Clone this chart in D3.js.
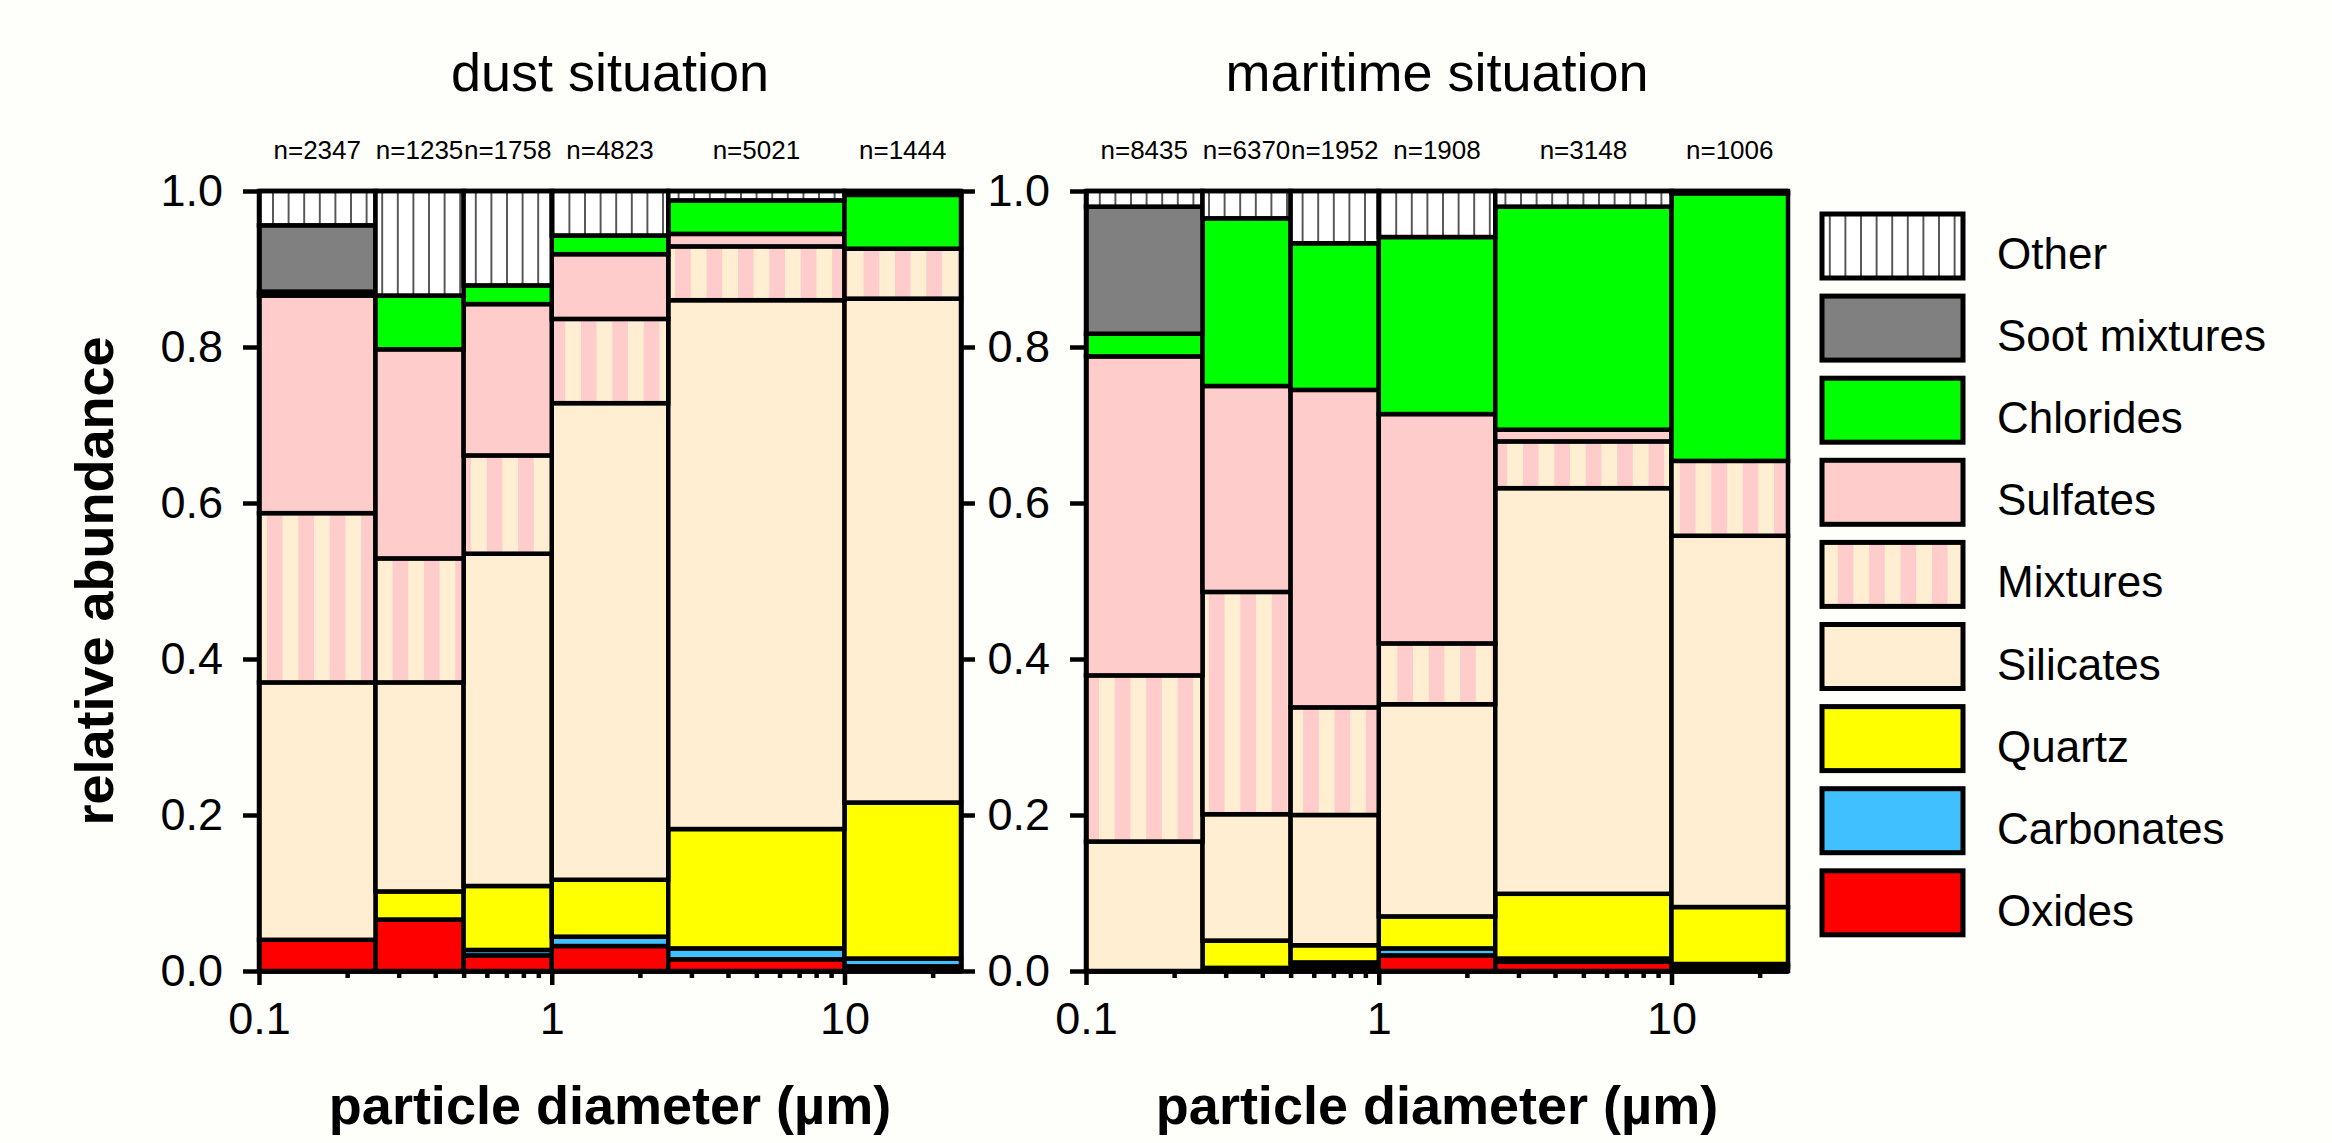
<!DOCTYPE html>
<html>
<head>
<meta charset="utf-8">
<script src="https://cdn.jsdelivr.net/npm/d3@7"></script>
<style>
  body { margin: 0; background: #fefefb; }
  svg { display: block; }
  text { font-family: "Liberation Sans", Arial, sans-serif; fill: #000; }
</style>
</head>
<body>
<div id="viz"></div>
<script>
// particle classes, stacked bottom to top
const categories = ["Oxides", "Carbonates", "Quartz", "Silicates", "Mixtures", "Sulfates", "Chlorides", "Soot mixtures", "Other"];
// legend goes top to bottom
const legendOrder = ["Other", "Soot mixtures", "Chlorides", "Sulfates", "Mixtures", "Silicates", "Quartz", "Carbonates", "Oxides"];

// size bin edges in µm
const sizeBins = [0.1, 0.25, 0.5, 1, 2.5, 10, 25];
const xMajorTicks = [0.1, 1, 10];
const xMinorTicks = [0.2, 0.3, 0.4, 0.5, 0.6, 0.7, 0.8, 0.9, 2, 3, 4, 5, 6, 7, 8, 9, 20];
const yTicks = [0, 0.2, 0.4, 0.6, 0.8, 1.0];

const panelTitles = ["dust situation", "maritime situation"];
const dustCounts = [2347, 1235, 1758, 4823, 5021, 1444];
const maritimeCounts = [8435, 6370, 1952, 1908, 3148, 1006];

// one row per size bin, columns follow `categories`
const dustFractions = [
    [0.040, 0.000, 0.000, 0.330, 0.217, 0.279, 0.005, 0.085, 0.044],
    [0.066, 0.000, 0.036, 0.268, 0.159, 0.268, 0.069, 0.000, 0.134],
    [0.020, 0.007, 0.082, 0.426, 0.126, 0.194, 0.024, 0.000, 0.121],
    [0.032, 0.012, 0.073, 0.611, 0.108, 0.083, 0.024, 0.000, 0.057],
    [0.015, 0.014, 0.153, 0.678, 0.069, 0.016, 0.043, 0.000, 0.012],
    [0.006, 0.010, 0.200, 0.646, 0.064, 0.000, 0.069, 0.000, 0.005]
];
const maritimeFractions = [
    [0.000, 0.000, 0.000, 0.166, 0.213, 0.409, 0.029, 0.163, 0.020],
    [0.004, 0.000, 0.035, 0.162, 0.285, 0.264, 0.215, 0.000, 0.035],
    [0.006, 0.005, 0.022, 0.167, 0.138, 0.407, 0.188, 0.000, 0.067],
    [0.020, 0.009, 0.041, 0.272, 0.078, 0.294, 0.227, 0.000, 0.059],
    [0.012, 0.004, 0.083, 0.520, 0.060, 0.015, 0.286, 0.000, 0.020],
    [0.005, 0.004, 0.073, 0.476, 0.096, 0.000, 0.343, 0.000, 0.003]
];

const W = 2332, H = 1143;
const svg = d3.select("#viz")
    .append("svg")
    .attr("width", W)
    .attr("height", H);

svg.append("rect").attr("width", W).attr("height", H).attr("fill", "#fefefb");

// hatch patterns for "Other" and "Mixtures"
const defs = svg.append("defs");
const patOther = defs.append("pattern")
    .attr("id", "pat-other")
    .attr("patternUnits", "userSpaceOnUse")
    .attr("width", 15.6).attr("height", 20);
patOther.append("rect").attr("width", 15.6).attr("height", 20).attr("fill", "#ffffff");
patOther.append("rect").attr("x", 7).attr("width", 1.6).attr("height", 20).attr("fill", "#333");

const patMix = defs.append("pattern")
    .attr("id", "pat-mix")
    .attr("patternUnits", "userSpaceOnUse")
    .attr("width", 31.4).attr("height", 20);
patMix.append("rect").attr("width", 31.4).attr("height", 20).attr("fill", "#ffeed2");
patMix.append("rect").attr("x", 15.7).attr("width", 15.7).attr("height", 20).attr("fill", "#ffcccc");

const fills = {
    "Oxides": "#ff0000",
    "Carbonates": "#40c0ff",
    "Quartz": "#ffff00",
    "Silicates": "#ffeed2",
    "Mixtures": "url(#pat-mix)",
    "Sulfates": "#ffcccc",
    "Chlorides": "#00ff00",
    "Soot mixtures": "#808080",
    "Other": "url(#pat-other)"
};

const y = d3.scaleLinear().domain([0, 1]).range([971, 191]);

function styleAxis(g, fontSize) {
    g.attr("font-family", null).attr("font-size", fontSize);
    g.selectAll("path, line").attr("stroke", "#000").attr("stroke-width", 4.5);
    g.selectAll("text").attr("fill", "#000");
}

function drawPanel(xRange, fractions, counts, title, withYTitle, withRightTicks) {
    const x = d3.scaleLog().domain([0.1, 25]).range(xRange);
    const g = svg.append("g");

    const rows = fractions.map((f, i) => {
        const o = { lo: sizeBins[i], hi: sizeBins[i + 1] };
        categories.forEach((c, j) => { o[c] = f[j]; });
        return o;
    });
    const series = d3.stack().keys(categories)(rows);

    series.forEach(s => {
        g.append("g").selectAll("rect")
            .data(s.filter(d => d[1] - d[0] > 0))
            .join("rect")
            .attr("x", d => x(d.data.lo))
            .attr("width", d => x(d.data.hi) - x(d.data.lo))
            .attr("y", d => y(d[1]))
            .attr("height", d => y(d[0]) - y(d[1]))
            .attr("fill", fills[s.key])
            .attr("stroke", "#000")
            .attr("stroke-width", 4.5);
    });

    // top frame line
    g.append("line")
        .attr("x1", xRange[0]).attr("x2", xRange[1])
        .attr("y1", y(1)).attr("y2", y(1))
        .attr("stroke", "#000").attr("stroke-width", 4.5);

    // y axis on the left
    g.append("g")
        .attr("transform", `translate(${xRange[0]},0)`)
        .call(d3.axisLeft(y).tickValues(yTicks).tickFormat(d3.format(".1f"))
            .tickSize(16).tickPadding(20).tickSizeOuter(0))
        .call(a => styleAxis(a, 45));

    if (withRightTicks) {
        g.append("g")
            .attr("transform", `translate(${xRange[1]},0)`)
            .call(d3.axisRight(y).tickValues(yTicks).tickFormat("").tickSize(14).tickSizeOuter(0))
            .call(a => styleAxis(a, 45));
    }

    // x axis: major ticks with labels, minor ticks without
    g.append("g")
        .attr("transform", `translate(0,${y(0)})`)
        .call(d3.axisBottom(x).tickValues(xMinorTicks).tickFormat("").tickSize(7).tickSizeOuter(0))
        .call(a => styleAxis(a, 45));
    g.append("g")
        .attr("transform", `translate(0,${y(0)})`)
        .call(d3.axisBottom(x).tickValues(xMajorTicks).tickFormat(d3.format("~g"))
            .tickSize(14).tickPadding(17).tickSizeOuter(0))
        .call(a => styleAxis(a, 45));

    // sample counts above each bin
    g.append("g").selectAll("text")
        .data(rows.map((r, i) => ({ r, n: counts[i] })))
        .join("text")
        .attr("x", d => x(Math.sqrt(d.r.lo * d.r.hi)))
        .attr("y", 159)
        .attr("text-anchor", "middle")
        .attr("font-size", 26)
        .text(d => "n=" + d.n);

    const cx = (xRange[0] + xRange[1]) / 2;
    g.append("text")
        .attr("x", cx).attr("y", 91)
        .attr("text-anchor", "middle")
        .attr("font-size", 54)
        .text(title);

    g.append("text")
        .attr("x", cx).attr("y", 1124)
        .attr("text-anchor", "middle")
        .attr("font-size", 54)
        .attr("font-weight", "bold")
        .text("particle diameter (µm)");

    if (withYTitle) {
        g.append("text")
            .attr("transform", `translate(113,${(y(0) + y(1)) / 2}) rotate(-90)`)
            .attr("text-anchor", "middle")
            .attr("font-size", 54)
            .attr("font-weight", "bold")
            .text("relative abundance");
    }
}

drawPanel([259, 961], dustFractions, dustCounts, panelTitles[0], true, true);
drawPanel([1086, 1788], maritimeFractions, maritimeCounts, panelTitles[1], false, false);

// legend
const legend = svg.append("g").attr("transform", "translate(1822,214)");
const items = legend.selectAll("g")
    .data(legendOrder)
    .join("g")
    .attr("transform", (d, i) => `translate(0,${i * 82.1})`);
items.append("rect")
    .attr("width", 141).attr("height", 64)
    .attr("fill", d => fills[d])
    .attr("stroke", "#000").attr("stroke-width", 5);
items.append("text")
    .attr("x", 175).attr("y", 55)
    .attr("font-size", 44)
    .text(d => d);
</script>
</body>
</html>
